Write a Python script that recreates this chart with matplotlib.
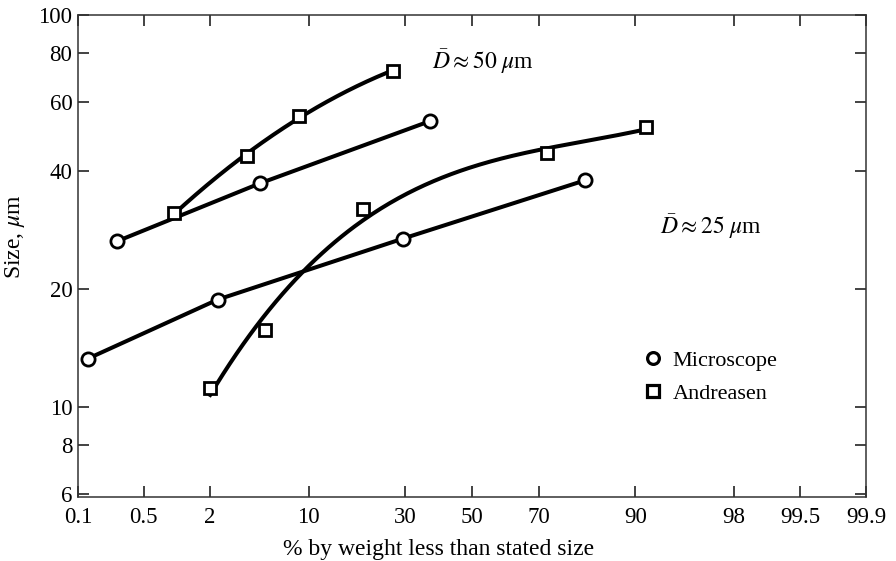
import math
from statistics import NormalDist
import numpy as np
import matplotlib
matplotlib.use('Agg')
import matplotlib.pyplot as plt
from matplotlib.ticker import FixedLocator, FixedFormatter, NullLocator
from matplotlib.lines import Line2D

plt.rcParams['font.family'] = ['Liberation Serif', 'DejaVu Serif']
plt.rcParams['mathtext.fontset'] = 'stix'

# data (% by weight less than size, size in um)
mic50_p = [0.27, 4.8, 37]
mic50_d = [26.5, 37.2, 53.6]
and50_p = [0.97, 3.9, 8.7, 26.8]
and50_d = [31.2, 43.7, 55.3, 72.1]
mic25_p = [0.13, 2.3, 29.4, 81.3]
mic25_d = [13.3, 18.8, 26.9, 37.9]
and25_p = [2.0, 5.2, 19.7, 72.3, 91.4]
and25_d = [11.2, 15.7, 32.0, 44.4, 51.7]

xticks = [0.1, 0.5, 2, 10, 30, 50, 70, 90, 98, 99.5, 99.9]
xticklabels = ['0.1', '0.5', '2', '10', '30', '50', '70', '90', '98', '99.5', '99.9']
yticks = [6, 8, 10, 20, 40, 60, 80, 100]

nd = NormalDist()
_fwd = np.vectorize(lambda p: nd.inv_cdf(min(max(p / 100.0, 1e-9), 1 - 1e-9)) if p == p else np.nan,
                    otypes=[float])
_inv = np.vectorize(lambda z: 100.0 * nd.cdf(z) if z == z else np.nan, otypes=[float])


def forward(p):
    return _fwd(np.asarray(p, dtype=float))


def inverse(z):
    return _inv(np.asarray(z, dtype=float))


def fit_curve(p, d, deg):
    # smooth fit in probability / log space, like the hand drawn curve
    z = forward(p)
    ld = np.log10(d)
    c = np.polyfit(z, ld, deg)
    zz = np.linspace(z[0], z[-1], 200)
    return inverse(zz), 10 ** np.polyval(c, zz)


fig = plt.figure(figsize=(8.96, 5.61), dpi=100)
ax = fig.add_axes([78 / 896, 1 - 497 / 561, 788 / 896, 482 / 561])
ax.set_xscale('function', functions=(forward, inverse))
ax.set_yscale('log')

lw = 2.9
ms = 9.5
mew = 2.0

ax.plot(mic50_p, mic50_d, color='black', lw=lw, zorder=2)
ax.plot(mic25_p, mic25_d, color='black', lw=lw, zorder=2)
cx, cy = fit_curve(and50_p, and50_d, 2)
ax.plot(cx, cy, color='black', lw=lw, zorder=2)
cx, cy = fit_curve(and25_p, and25_d, 3)
ax.plot(cx, cy, color='black', lw=lw, zorder=2)

for p, d in [(mic50_p, mic50_d), (mic25_p, mic25_d)]:
    ax.plot(p, d, 'o', ms=ms, mfc='white', mec='black', mew=mew, zorder=3)
for p, d in [(and50_p, and50_d), (and25_p, and25_d)]:
    ax.plot(p, d, 's', ms=ms - 0.5, mfc='white', mec='black', mew=mew, zorder=3)

ax.set_xlim(0.1, 99.9)
ax.set_ylim(5.9, 100)
ax.xaxis.set_major_locator(FixedLocator(xticks))
ax.xaxis.set_major_formatter(FixedFormatter(xticklabels))
ax.xaxis.set_minor_locator(NullLocator())
ax.yaxis.set_major_locator(FixedLocator(yticks))
ax.yaxis.set_major_formatter(FixedFormatter([str(v) for v in yticks]))
ax.yaxis.set_minor_locator(NullLocator())

ax.tick_params(direction='in', top=True, right=True, length=8, width=1.2,
               labelsize=16.5, color='#222222')
ax.tick_params(axis='x', pad=7)
ax.tick_params(axis='y', pad=4)
for s in ax.spines.values():
    s.set_linewidth(1.1)
    s.set_color('#333333')

ax.set_xlabel('% by weight less than stated size', fontsize=17, va='center')
ax.xaxis.set_label_coords(0.458, -0.108)
ax.set_ylabel(r'Size, $\mu$m', fontsize=17, va='center')
ax.yaxis.set_label_coords(-0.080, 0.541)

ax.text(0.449, 0.903, r'$\bar{D}\approx 50\ \mu$m', transform=ax.transAxes,
        fontsize=17, va='center', ha='left')
ax.text(0.739, 0.56, r'$\bar{D}\approx 25\ \mu$m', transform=ax.transAxes,
        fontsize=17, va='center', ha='left')

handles = [Line2D([], [], ls='none', marker='o', ms=ms - 1, mfc='white', mec='black', mew=mew + 0.3),
           Line2D([], [], ls='none', marker='s', ms=ms - 1.5, mfc='white', mec='black', mew=mew + 0.3)]
ax.legend(handles, ['Microscope', 'Andreasen'], loc='upper left',
          bbox_to_anchor=(0.69, 0.345), frameon=False, fontsize=16,
          handletextpad=0.4, labelspacing=0.55, handlelength=1.0)

fig.savefig('out.png', dpi=100)
